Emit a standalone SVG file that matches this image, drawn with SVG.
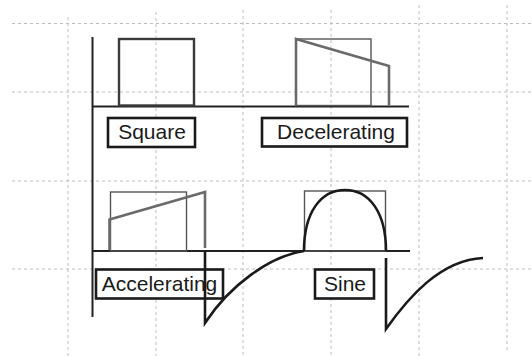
<svg xmlns="http://www.w3.org/2000/svg" width="532" height="356" viewBox="0 0 532 356">
<style>
.grid{stroke:#bdbdbd;stroke-width:1;stroke-dasharray:3,3;fill:none}
.axis{stroke:#222;stroke-width:2;fill:none}
.ref{stroke:#555;stroke-width:1.4;fill:none}
.prof{stroke:#6a6a6a;stroke-width:2.6;fill:none;stroke-linejoin:miter}
.sq{stroke:#3a3a3a;stroke-width:2.4;fill:none}
.curve{stroke:#1a1a1a;stroke-width:2.6;fill:none}
.lbl rect{fill:#fff;stroke:#1a1a1a;stroke-width:2.6}
.lbl text{font-family:"Liberation Sans",Arial,sans-serif;font-size:21px;fill:#1a1a1a;text-anchor:middle}
</style>
<rect width="532" height="356" fill="#fff"/>
<g id="grid">
<path class="grid" d="M12,23.5H532M12,92H532M12,181H532M12,269H532"/>
<path class="grid" d="M68,17V356M156,12V356M243,10V356M331,10V356M419,5V356M507,5V350"/>
</g>
<g id="axes">
<path class="axis" d="M92.5,37V317"/>
<path class="axis" d="M92,106.5H409"/>
<path class="axis" d="M92,251H410"/>
</g>
<g id="square">
<rect class="sq" x="119" y="39" width="75" height="66.5"/>
</g>
<g id="decelerating">
<rect class="ref" x="296" y="39" width="75" height="66.5"/>
<path class="prof" d="M296,105.5V39L389,66V105.5"/>
</g>
<g id="accelerating">
<rect class="ref" x="110.5" y="192" width="76" height="59"/>
<path class="prof" d="M109.5,250V219.5L205,192V248"/>
</g>
<g id="sine">
<rect class="ref" x="304.5" y="191" width="81" height="60"/>
<path class="curve" d="M304,251C304,212 321,190 345,190C369,190 386,212 386,251"/>
</g>
<g id="label-square" class="lbl">
<rect x="108" y="118" width="87" height="29"/>
<text x="152" y="138.5">Square</text>
</g>
<g id="label-decelerating" class="lbl">
<rect x="262" y="118" width="145" height="28.5"/>
<text x="336" y="138.5">Decelerating</text>
</g>
<g id="label-accelerating" class="lbl">
<rect x="96" y="269.5" width="127" height="29"/>
<text x="159.5" y="291">Accelerating</text>
</g>
<g id="label-sine" class="lbl">
<rect x="315" y="269.5" width="59" height="29"/>
<text x="345" y="291">Sine</text>
</g>
<g id="connectors">
<path class="curve" d="M205,251V323C230,285 270,256 304,251"/>
<path class="curve" d="M386,258V329C408,298 440,260 483,258"/>
</g>
</svg>
